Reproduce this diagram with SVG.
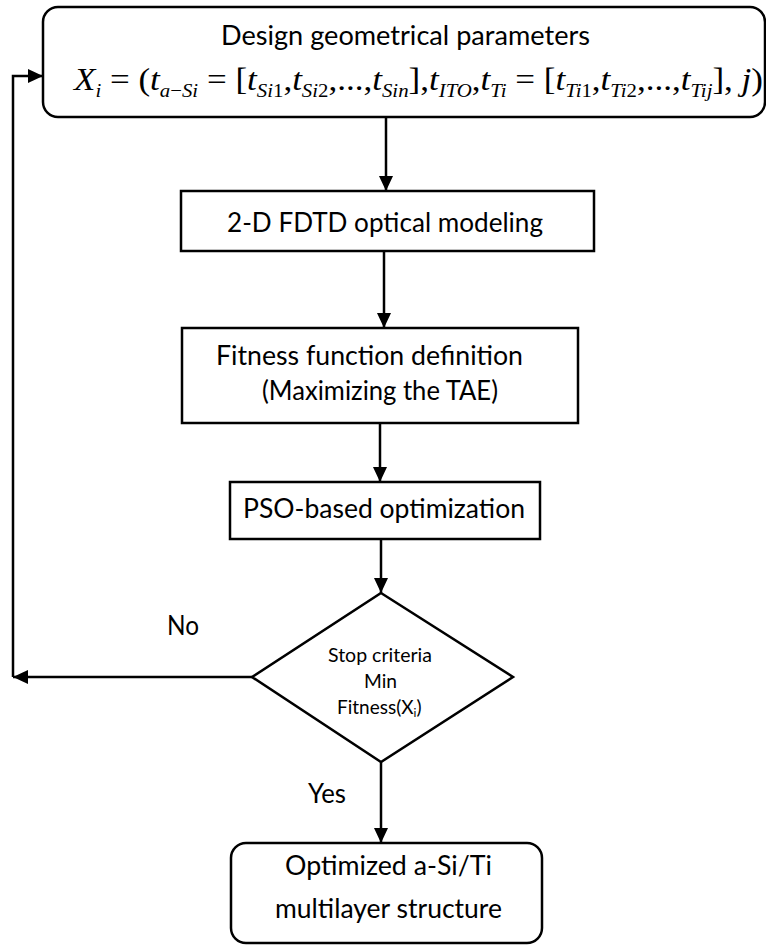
<svg xmlns="http://www.w3.org/2000/svg" width="766" height="945" viewBox="0 0 766 945">
  <style>
    .box { fill: #fff; stroke: #000; stroke-width: 2.5; }
    .lbl { font-family: Lato, "Open Sans", "Liberation Sans", sans-serif; font-size: 26px; fill: #000; }
    .small { font-family: Lato, "Open Sans", "Liberation Sans", sans-serif; font-size: 19px; fill: #000; }
    .math { font-family: "Liberation Serif", "Times New Roman", serif; font-size: 32px; fill: #000; }
    .it { font-style: italic; }
    .conn { fill: none; stroke: #000; stroke-width: 2.5; }
  </style>
  <defs>
    <marker id="ah" markerUnits="userSpaceOnUse" markerWidth="16" markerHeight="14" refX="15" refY="7" orient="auto">
      <path d="M0,0 L15,7 L0,14 z" fill="#000"/>
    </marker>
  </defs>
  <rect width="766" height="945" fill="#fff"/>

  <g id="connectors">
    <path class="conn" d="M386,117 V191" marker-end="url(#ah)"/>
    <path class="conn" d="M384,251 V328" marker-end="url(#ah)"/>
    <path class="conn" d="M380,423 V482" marker-end="url(#ah)"/>
    <path class="conn" d="M381,539 V593" marker-end="url(#ah)"/>
    <path class="conn" d="M381,762 V843" marker-end="url(#ah)"/>
    <path class="conn" d="M252,677 H13" marker-end="url(#ah)"/>
    <path class="conn" d="M13,677 V76 H43" marker-end="url(#ah)"/>
    <text class="lbl" x="167" y="635" textLength="32" lengthAdjust="spacingAndGlyphs">No</text>
    <text class="lbl" x="308" y="803" textLength="38" lengthAdjust="spacingAndGlyphs">Yes</text>
  </g>

  <g id="design">
    <rect class="box" x="43" y="7" width="722" height="110" rx="15" ry="15"/>
    <text class="lbl" x="221" y="45" textLength="369" lengthAdjust="spacingAndGlyphs">Design geometrical parameters</text>
    <text class="math" x="74" y="90" textLength="689" lengthAdjust="spacingAndGlyphs"><tspan class="it">X</tspan><tspan class="it" font-size="19" dy="7">i</tspan><tspan dy="-7"> = (</tspan><tspan class="it">t</tspan><tspan font-size="19" dy="7"><tspan class="it">a</tspan>−<tspan class="it">Si</tspan></tspan><tspan dy="-7"> = [</tspan><tspan class="it">t</tspan><tspan font-size="19" dy="7"><tspan class="it">Si</tspan>1</tspan><tspan dy="-7">,</tspan><tspan class="it">t</tspan><tspan font-size="19" dy="7"><tspan class="it">Si</tspan>2</tspan><tspan dy="-7">,...,</tspan><tspan class="it">t</tspan><tspan class="it" font-size="19" dy="7">Sin</tspan><tspan dy="-7">],</tspan><tspan class="it">t</tspan><tspan class="it" font-size="19" dy="7">ITO</tspan><tspan dy="-7">,</tspan><tspan class="it">t</tspan><tspan class="it" font-size="19" dy="7">Ti</tspan><tspan dy="-7"> = [</tspan><tspan class="it">t</tspan><tspan font-size="19" dy="7"><tspan class="it">Ti</tspan>1</tspan><tspan dy="-7">,</tspan><tspan class="it">t</tspan><tspan font-size="19" dy="7"><tspan class="it">Ti</tspan>2</tspan><tspan dy="-7">,...,</tspan><tspan class="it">t</tspan><tspan class="it" font-size="19" dy="7">Tij</tspan><tspan dy="-7">], </tspan><tspan class="it">j</tspan><tspan>)</tspan></text>
  </g>

  <g id="fdtd">
    <rect class="box" x="181" y="191" width="413" height="60"/>
    <text class="lbl" x="227" y="232" textLength="316" lengthAdjust="spacingAndGlyphs">2-D FDTD optical modeling</text>
  </g>

  <g id="fitness">
    <rect class="box" x="182" y="328" width="396" height="95"/>
    <text class="lbl" x="216" y="365" textLength="307" lengthAdjust="spacingAndGlyphs">Fitness function definition</text>
    <text class="lbl" x="262" y="400" textLength="236" lengthAdjust="spacingAndGlyphs">(Maximizing the TAE)</text>
  </g>

  <g id="pso">
    <rect class="box" x="230" y="482" width="310" height="57"/>
    <text class="lbl" x="243" y="518" textLength="282" lengthAdjust="spacingAndGlyphs">PSO-based optimization</text>
  </g>

  <g id="stop">
    <polygon class="box" points="381,593 513,677 381,762 252,677"/>
    <text class="small" x="328" y="662" textLength="104" lengthAdjust="spacingAndGlyphs">Stop criteria</text>
    <text class="small" x="364" y="688" textLength="33" lengthAdjust="spacingAndGlyphs">Min</text>
    <text class="small" x="337" y="714">Fitness(X<tspan font-size="12" dy="3">i</tspan><tspan dy="-3">)</tspan></text>
  </g>

  <g id="result">
    <rect class="box" x="231" y="843" width="311" height="100" rx="15" ry="15"/>
    <text class="lbl" x="285" y="875" textLength="207" lengthAdjust="spacingAndGlyphs">Optimized a-Si/Ti</text>
    <text class="lbl" x="275" y="918" textLength="227" lengthAdjust="spacingAndGlyphs">multilayer structure</text>
  </g>
</svg>
